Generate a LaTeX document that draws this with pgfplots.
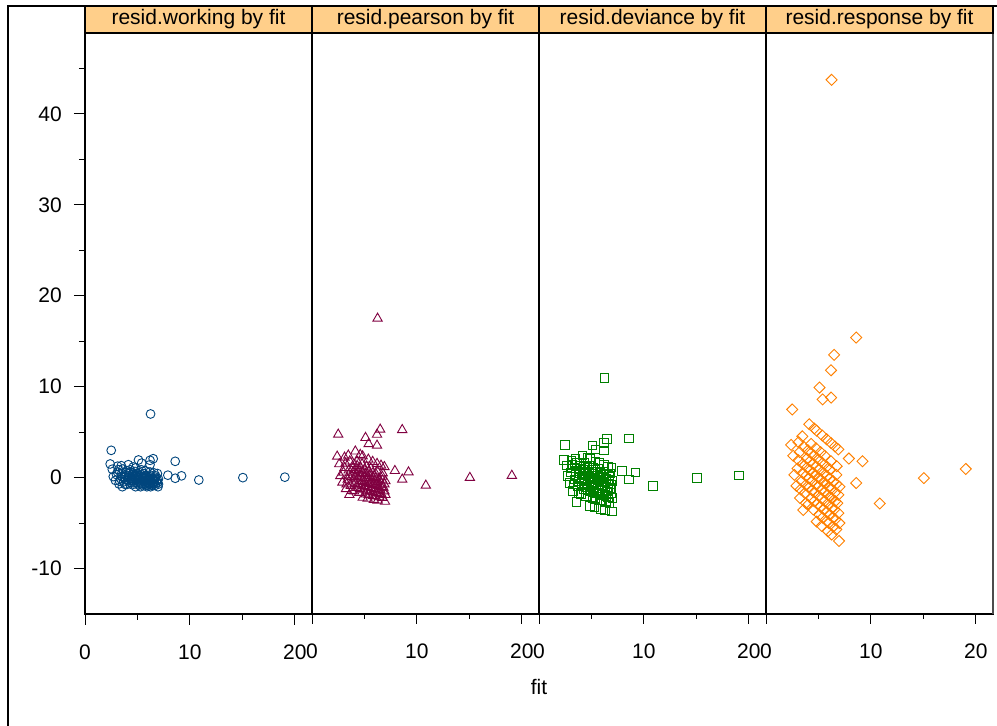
\documentclass[border=0pt]{standalone}
\usepackage{pgfplots}
\pgfplotsset{compat=1.18}
\usepackage{pgfplotstable}
\usepackage{fontspec}
\setmainfont{Liberation Sans}
\definecolor{cblue}{RGB}{0,69,125}
\definecolor{cmaroon}{RGB}{128,0,64}
\definecolor{cgreen}{RGB}{0,128,0}
\definecolor{corange}{RGB}{255,128,0}
\definecolor{stripc}{RGB}{255,207,138}

\pgfplotstableread{
f w p d r
3.56 -1 -1.887 -2.668 -3.56
4.83 -1 -2.198 -3.108 -4.83
5.30 -1 -2.302 -3.256 -5.30
5.90 -1 -2.429 -3.435 -5.90
6.26 -1 -2.502 -3.538 -6.26
6.96 -1 -2.638 -3.731 -6.96
3.24 -0.691 -1.244 -1.459 -2.24
4.00 -0.750 -1.500 -1.796 -3.00
4.50 -0.778 -1.650 -1.998 -3.50
5.10 -0.804 -1.816 -2.223 -4.10
5.80 -0.828 -1.993 -2.467 -4.80
6.40 -0.844 -2.135 -2.662 -5.40
6.70 -0.851 -2.202 -2.756 -5.70
3.80 -0.737 -1.436 -1.712 -2.80
5.40 -0.815 -1.893 -2.330 -4.40
6.00 -0.833 -2.041 -2.533 -5.00
2.90 -0.310 -0.529 -0.560 -0.90
3.70 -0.459 -0.884 -0.969 -1.70
4.30 -0.535 -1.109 -1.240 -2.30
4.90 -0.592 -1.310 -1.488 -2.90
5.50 -0.636 -1.492 -1.719 -3.50
6.10 -0.672 -1.660 -1.934 -4.10
6.60 -0.697 -1.791 -2.103 -4.60
7.00 -0.714 -1.890 -2.234 -5.00
3.30 -0.394 -0.716 -0.773 -1.30
4.60 -0.565 -1.212 -1.367 -2.60
5.20 -0.615 -1.403 -1.605 -3.20
5.80 -0.655 -1.578 -1.828 -3.80
6.40 -0.688 -1.739 -2.036 -4.40
2.70 0.111 0.183 0.178 0.30
3.40 -0.118 -0.217 -0.221 -0.40
4.10 -0.268 -0.543 -0.571 -1.10
4.60 -0.348 -0.746 -0.797 -1.60
5.00 -0.400 -0.894 -0.967 -2.00
5.60 -0.464 -1.099 -1.206 -2.60
6.00 -0.500 -1.225 -1.357 -3.00
6.50 -0.538 -1.373 -1.536 -3.50
6.90 -0.565 -1.485 -1.674 -3.90
3.80 -0.211 -0.410 -0.426 -0.80
4.40 -0.318 -0.667 -0.709 -1.40
5.30 -0.434 -0.999 -1.089 -2.30
6.30 -0.524 -1.315 -1.466 -3.30
3.00 0.333 0.577 0.549 1.00
3.80 0.053 0.103 0.102 0.20
4.40 -0.091 -0.191 -0.194 -0.40
4.80 -0.167 -0.365 -0.376 -0.80
5.30 -0.245 -0.565 -0.591 -1.30
5.90 -0.322 -0.782 -0.831 -1.90
6.30 -0.365 -0.916 -0.983 -2.30
6.80 -0.412 -1.074 -1.164 -2.80
3.50 0.143 0.267 0.261 0.50
4.10 -0.024 -0.049 -0.049 -0.10
5.00 -0.200 -0.447 -0.464 -1.00
5.60 -0.286 -0.676 -0.713 -1.60
6.10 -0.344 -0.850 -0.908 -2.10
6.60 -0.394 -1.012 -1.093 -2.60
2.60 0.923 1.488 1.319 2.40
3.50 0.429 0.802 0.752 1.50
4.20 0.190 0.390 0.378 0.80
4.70 0.064 0.138 0.134 0.30
5.20 -0.038 -0.088 -0.084 -0.20
5.70 -0.123 -0.293 -0.298 -0.70
6.20 -0.194 -0.482 -0.499 -1.20
6.60 -0.242 -0.623 -0.650 -1.60
3.10 0.613 1.079 0.990 1.90
3.90 0.282 0.557 0.533 1.10
4.50 0.111 0.236 0.230 0.50
5.00 0.000 0.000 0.000 0.00
5.50 -0.091 -0.213 -0.217 -0.50
6.00 -0.167 -0.408 -0.420 -1.00
6.90 -0.275 -0.723 -0.761 -1.90
2.40 1.500 2.324 1.948 3.60
3.20 0.875 1.565 1.394 2.80
3.90 0.538 1.063 0.985 2.10
4.50 0.333 0.707 0.673 1.50
5.10 0.176 0.399 0.389 0.90
5.80 0.034 0.083 0.082 0.20
6.40 -0.063 -0.158 -0.161 -0.40
7.00 -0.143 -0.378 -0.388 -1.00
4.20 0.429 0.878 0.825 1.80
4.80 0.250 0.548 0.528 1.20
5.50 0.091 0.213 0.213 0.50
6.10 -0.016 -0.040 -0.040 -0.10
6.70 -0.104 -0.270 -0.276 -0.70
3.10 1.258 2.215 1.898 3.90
4.00 0.750 1.500 1.354 3.00
4.60 0.522 1.119 1.038 2.40
5.40 0.296 0.689 0.658 1.60
6.10 0.148 0.364 0.356 0.90
6.70 0.045 0.116 0.115 0.30
3.60 0.944 1.792 1.584 3.40
4.30 0.628 1.302 1.193 2.70
5.00 0.400 0.894 0.843 2.00
5.80 0.207 0.498 0.482 1.20
3.46 1.312 2.441 2.081 4.54
4.30 0.860 1.784 1.591 3.70
4.77 0.677 1.479 1.347 3.23
5.20 0.538 1.228 1.136 2.80
5.60 0.429 1.014 0.952 2.40
6.20 0.290 0.723 0.692 1.80
6.74 0.187 0.485 0.470 1.26
4.13 1.421 2.889 2.438 5.87
4.60 1.174 2.518 2.175 5.40
4.83 1.070 2.352 2.053 5.17
5.37 0.862 1.998 1.782 4.63
5.78 0.730 1.755 1.589 4.22
6.20 0.613 1.526 1.401 3.80
6.58 0.520 1.333 1.238 3.42
6.90 0.449 1.180 1.105 3.10
2.50 3.000 4.743 3.567 7.50
7.90 0.266 0.747 0.717 2.10
9.20 0.196 0.593 0.576 1.80
19.05 0.050 0.218 0.219 0.95
15.05 -0.003 -0.013 -0.013 -0.05
8.60 -0.070 -0.205 -0.204 -0.60
10.85 -0.263 -0.865 -0.907 -2.85
8.60 1.791 5.251 4.297 15.40
6.50 2.077 5.295 4.237 13.50
6.20 1.903 4.739 3.843 11.80
5.10 1.941 4.384 3.545 9.90
6.20 1.419 3.534 2.985 8.80
5.40 1.593 3.701 3.078 8.60
6.25 7.000 17.500 10.975 43.75
}\resid

\pgfplotsset{
  panel/.style={
    scale only axis, width=227pt, height=581pt,
    xmin=0, xmax=21.64, ymin=-15, ymax=48.9,
    anchor=south west,
    axis line style={black, line width=1.3pt},
    tick align=outside, xtick pos=bottom, ytick pos=left,
    xtick={0,10,20}, minor xtick={5,15},
    xticklabels={0,10,20},
    major tick length=10pt, minor tick length=5pt,
    every tick/.style={black, line width=0.9pt},
    xticklabel style={font=\fontsize{21}{24}\selectfont, anchor=north, inner sep=0pt, yshift=-20pt},
    ytick=\empty,
  },
}

\begin{document}
\begin{tikzpicture}
\path[use as bounding box] (0pt,0pt) rectangle (997pt,726pt);

\begin{axis}[panel, at={(85pt,112pt)},
  ytick={-10,0,10,20,30,40}, yticklabels={-10,0,10,20,30,40},
  minor ytick={-5,5,15,25,35,45},
  yticklabel style={font=\fontsize{21}{24}\selectfont, anchor=east, inner sep=0pt, xshift=-12pt},
  major tick length=11pt, minor tick length=6pt]
\addplot[only marks, mark=o, mark size=4.4pt, cblue, line width=0.9pt] table[x=f, y=w] {\resid};
\end{axis}

\begin{axis}[panel, at={(312pt,112pt)}]
\addplot[only marks, mark=triangle, mark size=5.4pt, cmaroon, line width=0.9pt] table[x=f, y=p] {\resid};
\end{axis}

\begin{axis}[panel, at={(539pt,112pt)}]
\addplot[only marks, mark=square, mark size=4.3pt, cgreen, line width=0.9pt] table[x=f, y=d] {\resid};
\end{axis}

\begin{axis}[panel, at={(766pt,112pt)}]
\addplot[only marks, mark=square, mark size=3.9pt, mark options={rotate=45}, corange, line width=0.9pt] table[x=f, y=r] {\resid};
\end{axis}

\draw[gray!60!black, line width=2.4pt] (993pt,112pt) -- (993pt,693pt);

\foreach \x/\t in {85/resid.working by fit, 312/resid.pearson by fit, 539/resid.deviance by fit, 766/resid.response by fit}{
  \draw[fill=stripc, line width=1.3pt] (\x pt,693pt) rectangle (\x pt+227pt,720pt);
  \node[font=\fontsize{21}{24}\selectfont, inner sep=0pt] at (\x pt+113.5pt,706.5pt) {\t};
}

\draw[black, line width=2pt] (8pt,0pt) -- (8pt,720pt) -- (997pt,720pt);

\node[font=\fontsize{21}{24}\selectfont, inner sep=0pt] at (539pt,39pt) {fit};
\end{tikzpicture}
\end{document}
